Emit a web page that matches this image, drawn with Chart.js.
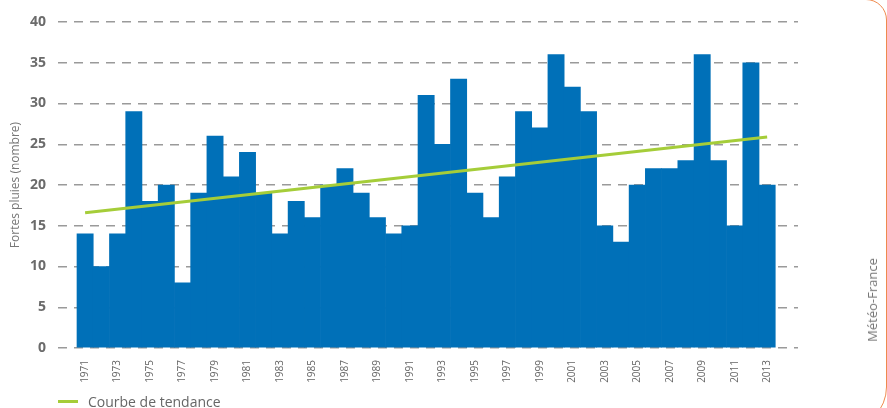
<!DOCTYPE html>
<html>
<head>
<meta charset="utf-8">
<script src="https://cdn.jsdelivr.net/npm/chart.js@4"></script>
<style>
  body { margin: 0; background: #fff; }
  #wrap { position: relative; width: 887px; height: 408px; overflow: hidden; font-family: "Open Sans", sans-serif; }
  #frame { position: absolute; left: -300px; top: -1.5px; width: 1186.5px; height: 430px; box-sizing: border-box;
           border: 1.5px solid #ef8a4d; border-top-right-radius: 21px; border-bottom-right-radius: 42px; }
  #source { position: absolute; left: 872px; top: 300px; transform: translate(-50%, -50%) rotate(-90deg);
            font-size: 13px; color: #777; white-space: nowrap; }
  #legend { position: absolute; left: 58px; top: 392px; height: 18px; display: flex; align-items: center;
            font-size: 14px; color: #666; }
  #legend span.line { display: inline-block; width: 20px; height: 3px; background: #a5cd39; margin-right: 10px; }
  canvas { position: absolute; left: 0; top: 0; }
</style>
</head>
<body>
<div id="wrap">
  <div id="frame"></div>
  <canvas id="chart" width="887" height="408"></canvas>
  <div id="source">Météo-France</div>
  <div id="legend"><span class="line"></span>Courbe de tendance</div>
</div>
<script>
// Annual number of heavy rain events
const years = [1971, 1972, 1973, 1974, 1975, 1976, 1977, 1978, 1979, 1980,
  1981, 1982, 1983, 1984, 1985, 1986, 1987, 1988, 1989, 1990,
  1991, 1992, 1993, 1994, 1995, 1996, 1997, 1998, 1999, 2000,
  2001, 2002, 2003, 2004, 2005, 2006, 2007, 2008, 2009, 2010,
  2011, 2012, 2013];
const rainCounts = [14, 10, 14, 29, 18, 20, 8, 19, 26, 21,
  24, 19, 14, 18, 16, 20, 22, 19, 16, 14,
  15, 31, 25, 33, 19, 16, 21, 29, 27, 36,
  32, 29, 15, 13, 20, 22, 22, 23, 36, 23,
  15, 35, 20];
// trend line end points
const trendYears = [1971, 2013];
const trendValues = [16.6, 25.9];
// labelled years on the x axis
const tickYears = [1971, 1973, 1975, 1977, 1979, 1981, 1983, 1985, 1987, 1989, 1991,
  1993, 1995, 1997, 1999, 2001, 2003, 2005, 2007, 2009, 2011, 2013];
const yTicks = [0, 5, 10, 15, 20, 25, 30, 35, 40];

const ctx = document.getElementById('chart').getContext('2d');
new Chart(ctx, {
  data: {
    datasets: [
      {
        type: 'line',
        label: 'Courbe de tendance',
        data: trendYears.map((y, i) => ({ x: y, y: trendValues[i] })),
        borderColor: '#a5cd39',
        backgroundColor: '#a5cd39',
        borderWidth: 3,
        pointRadius: 0,
        order: 0
      },
      {
        type: 'bar',
        label: 'Fortes pluies',
        data: years.map((y, i) => ({ x: y, y: rainCounts[i] })),
        backgroundColor: '#0070b8',
        borderWidth: 0,
        barPercentage: 1,
        categoryPercentage: 1,
        order: 1
      }
    ]
  },
  options: {
    responsive: false,
    animation: false,
    layout: { padding: { left: 0, right: 89, top: 22, bottom: 0 } },
    plugins: { legend: { display: false }, tooltip: { enabled: false } },
    scales: {
      x: {
        type: 'linear',
        offset: false,
        min: 1969.33,
        max: 2014.9,
        grid: { display: false, offset: false },
        border: { display: false },
        afterBuildTicks: (axis) => { axis.ticks = tickYears.map(v => ({ value: v })); },
        afterFit: (scale) => { scale.height = 60; },
        ticks: {
          autoSkip: false,
          minRotation: 90,
          maxRotation: 90,
          padding: 4,
          color: '#666',
          font: { family: 'Open Sans', size: 10 },
          callback: (v) => String(v)
        }
      },
      y: {
        min: 0,
        max: 40,
        z: 1,
        afterBuildTicks: (axis) => { axis.ticks = yTicks.map(v => ({ value: v })); },
        afterFit: (scale) => { scale.width = 58; },
        grid: { color: '#9a9a9a', lineWidth: 1.5, drawTicks: false },
        border: { display: false, dash: [9, 7] },
        ticks: {
          padding: 12,
          color: '#6b6b6b',
          font: { family: 'Open Sans', size: 14, weight: 'bold' }
        },
        title: {
          display: true,
          text: 'Fortes pluies (nombre)',
          color: '#777',
          padding: { top: 8, bottom: 0 },
          font: { family: 'Open Sans', size: 12 }
        }
      }
    }
  }
});
</script>
</body>
</html>
